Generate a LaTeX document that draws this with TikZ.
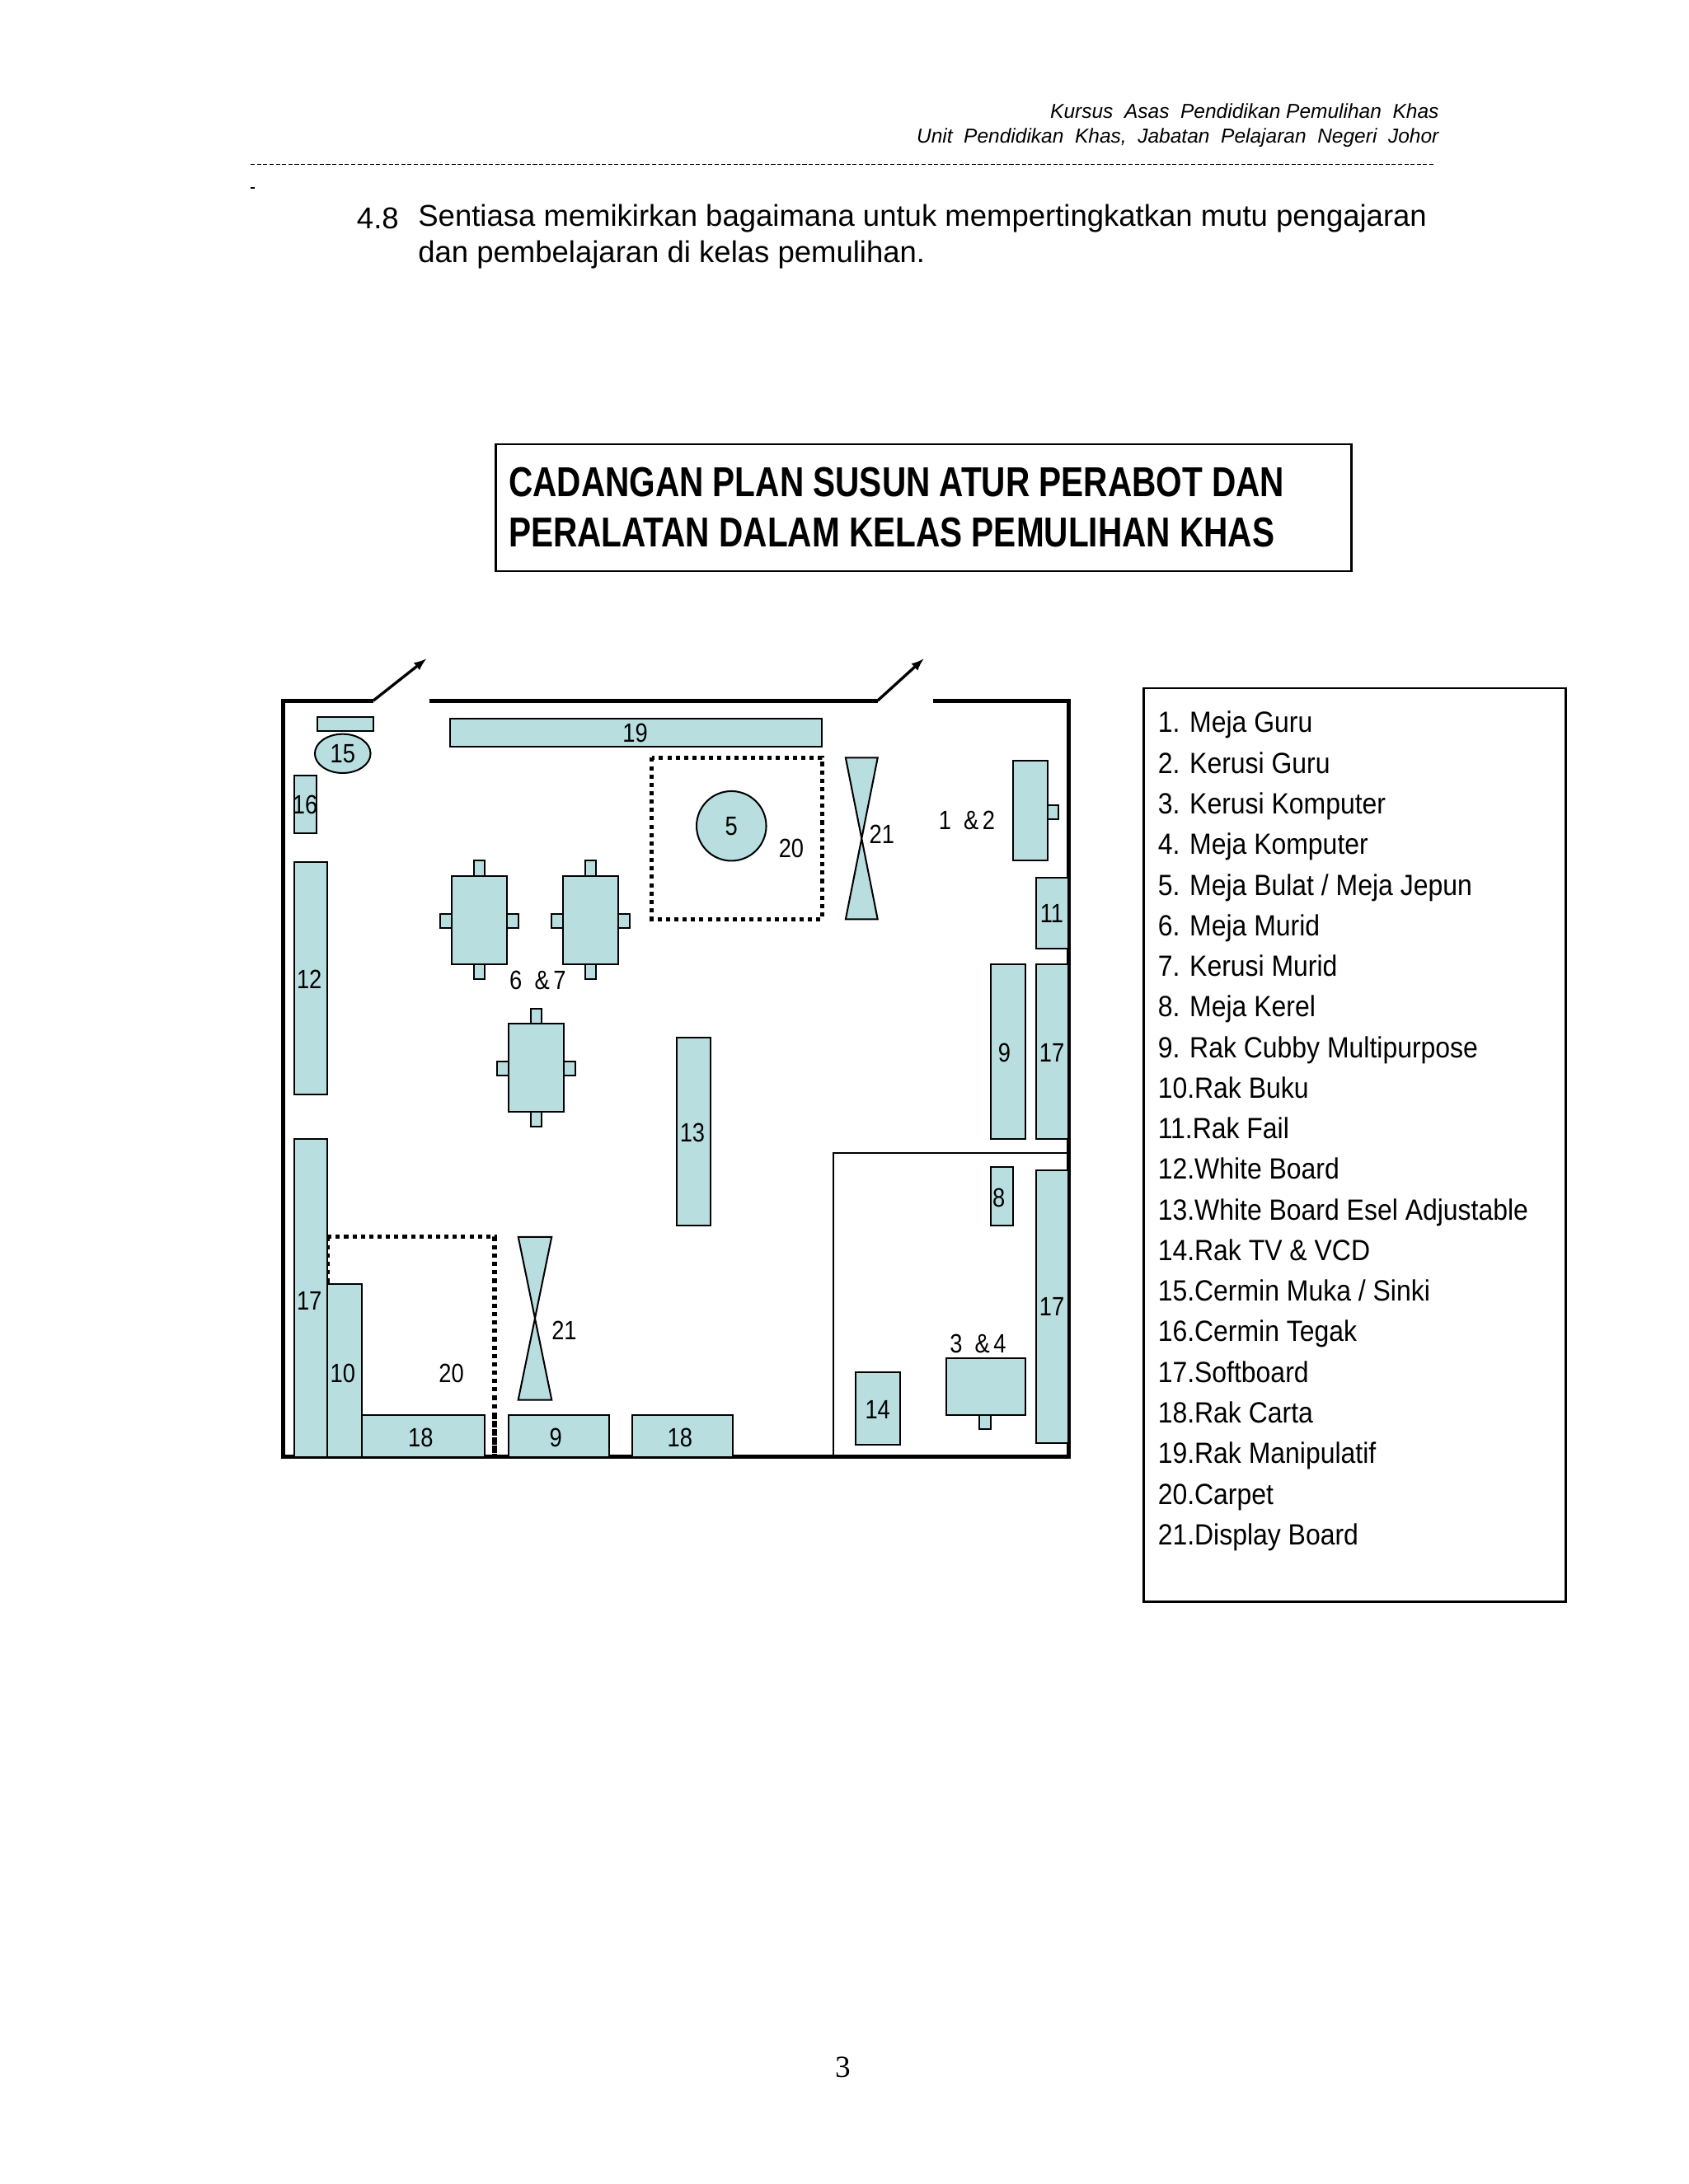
\documentclass[tikz,border=0pt]{standalone}
\usepackage{fontspec}
\setmainfont{Liberation Sans}
\newfontfamily\serifpage{Liberation Serif}
\begin{document}
\begin{tikzpicture}[x=1pt,y=-1pt,
 lab/.style={font=\fontsize{19}{19}\selectfont,xscale=0.85,inner sep=0},
 wall/.style={line width=3pt},
 dot/.style={line width=3pt,dash pattern=on 3pt off 3pt},
 leg/.style={font=\fontsize{21}{21}\selectfont,xscale=0.9,anchor=base west,inner sep=0},
 body/.style={anchor=west,font=\fontsize{21.6}{21.6}\selectfont,inner sep=0}]
\definecolor{fc}{HTML}{B8DEE0}
\tikzset{furn/.style={draw=black,fill=fc,line width=1.2pt}}
\useasboundingbox (0,0) rectangle (1212,1568);
% header
\node[anchor=east,font=\itshape\fontsize{14.5}{14.5}\selectfont,inner sep=0] (h1) at (1033,80) {Kursus\ \ Asas\ \ Pendidikan Pemulihan\ \ Khas};
\node[anchor=east,font=\itshape\fontsize{14.5}{14.5}\selectfont,inner sep=0] (h2) at (1033,99) {Unit\ \ Pendidikan\ \ Khas,\ \ Jabatan\ \ Pelajaran\ \ Negeri\ \ Johor};
\draw[line width=0.8pt,dash pattern=on 3pt off 1.5pt] (180,118) -- (1030,118);
\draw[line width=0.8pt] (180,135) -- (183,135);
\node[body] (n48) at (256,157) {4.8};
\node[body] (b1) at (300,157) {Sentiasa memikirkan bagaimana untuk mempertingkatkan mutu pengajaran};
\node[body] (b2) at (300,183) {dan pembelajaran di kelas pemulihan.};
% title
\draw[line width=1.5pt] (356,319) rectangle (970,410);
\node[anchor=west,font=\bfseries\fontsize{30}{30}\selectfont,xscale=0.8,inner sep=0] (t1) at (365,346) {CADANGAN PLAN SUSUN ATUR PERABOT DAN};
\node[anchor=west,font=\bfseries\fontsize{30}{30}\selectfont,xscale=0.8,inner sep=0] (t2) at (365,382) {PERALATAN DALAM KELAS PEMULIHAN KHAS};
% walls
\draw[wall] (268,503) -- (203,503) -- (203,1046) -- (767,1046) -- (767,503) -- (670,503);
\draw[wall] (308,503) -- (630,503);
\draw[line width=2pt,-latex] (268,503) -- (306,473);
\draw[line width=2pt,-latex] (630,503) -- (663,473);
\draw[line width=1.2pt] (598,1046) -- (598,828) -- (767,828);
% carpets
\draw[dot] (468,544) rectangle (590,660);
\node[lab] (l20a) at (568,609) {20};
\draw[dot] (235,888) -- (355,888) -- (355,1046);
\draw[dot] (235,888) -- (235,1046);
\node[lab] (l20b) at (324,986) {20};
% furniture
\draw[furn] (228,515) rectangle (268,525);
\draw[furn] (246,541) ellipse (20 and 14); \node[lab] at (246,541) {15};
\draw[furn] (211,557) rectangle (227,598); \node[lab] at (219,578) {16};
\draw[furn] (323,516) rectangle (590,536); \node[lab] at (456,526) {19};
\draw[furn] (525,593) circle (25); \node[lab] at (525,593) {5};
\draw[furn] (607,544) -- (630,544) -- (607,660) -- (630,660) -- cycle; \node[lab] at (633,599) {21};
\draw[furn] (372,888) -- (396,888) -- (372,1005) -- (396,1005) -- cycle; \node[lab] at (405,955) {21};
\node[lab] at (694,589) {1\ \ \&\,2};
\draw[furn] (752,578) rectangle (760,588);
\draw[furn] (727,546) rectangle (752,618);
\draw[furn] (744,630) rectangle (767,681); \node[lab] at (755,656) {11};
\foreach \x/\y in {324/629,404/629,365/735}{
 \draw[furn] (\x+16,\y-11) rectangle (\x+24,\y);
 \draw[furn] (\x+16,\y+63) rectangle (\x+24,\y+74);
 \draw[furn] (\x-8,\y+27) rectangle (\x,\y+37);
 \draw[furn] (\x+40,\y+27) rectangle (\x+48,\y+37);
 \draw[furn] (\x,\y) rectangle (\x+40,\y+63);}
\node[lab] at (386,704) {6\ \ \&\,7};
\draw[furn] (211,619) rectangle (235,786); \node[lab] at (222,703) {12};
\draw[furn] (486,745) rectangle (510,880); \node[lab] at (497,813) {13};
\draw[furn] (711,692) rectangle (736,818); \node[lab] at (721,756) {9};
\draw[furn] (744,692) rectangle (767,818); \node[lab] at (755,756) {17};
\draw[furn] (711,838) rectangle (727,880); \node[lab] at (717,860) {8};
\draw[furn] (744,840) rectangle (767,1036); \node[lab] at (755,938) {17};
\draw[furn] (703,1016) rectangle (711,1026);
\draw[furn] (679,975) rectangle (736,1016); \node[lab] at (702,965) {3\ \ \&\,4};
\draw[furn] (614,985) rectangle (646,1037); \node[lab] at (630,1012) {14};
\draw[furn] (211,818) rectangle (235,1046); \node[lab] at (222,934) {17};
\draw[furn] (235,922) rectangle (260,1046); \node[lab] at (246,986) {10};
\draw[furn] (260,1016) rectangle (348,1046); \node[lab] at (302,1032) {18};
\draw[furn] (365,1016) rectangle (437,1046); \node[lab] at (399,1032) {9};
\draw[furn] (454,1016) rectangle (526,1046); \node[lab] at (488,1032) {18};
\draw[dot] (355,1016) -- (355,1046);
% legend
\draw[line width=1.5pt] (821,494) rectangle (1124,1150);
\foreach \i/\t in {1/{1. Meja Guru},2/{2. Kerusi Guru},3/{3. Kerusi Komputer},4/{4. Meja Komputer},5/{5. Meja Bulat / Meja Jepun},6/{6. Meja Murid},7/{7. Kerusi Murid},8/{8. Meja Kerel},9/{9. Rak Cubby Multipurpose},10/{10.Rak Buku},11/{11.Rak Fail},12/{12.White Board},13/{13.White Board Esel Adjustable},14/{14.Rak TV \& VCD},15/{15.Cermin Muka / Sinki},16/{16.Cermin Tegak},17/{17.Softboard},18/{18.Rak Carta},19/{19.Rak Manipulatif},20/{20.Carpet},21/{21.Display Board}}
 \node[leg] (lg\i) at (831,{526+29.15*(\i-1)}) {\t};
\node[font=\serifpage\fontsize{22}{22}\selectfont] (pg) at (605,1484) {3};
\end{tikzpicture}
\end{document}
